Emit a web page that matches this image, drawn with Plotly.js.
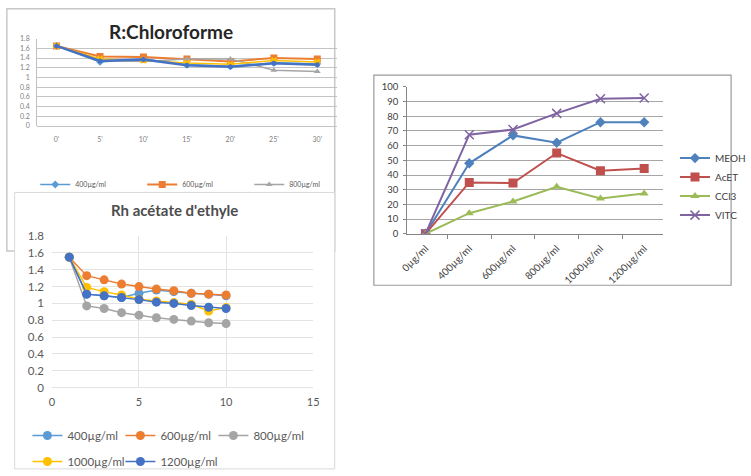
<!DOCTYPE html>
<html>
<head>
<meta charset="utf-8">
<script src="https://cdn.plot.ly/plotly-3.0.1.min.js"></script>
<style>
  html, body { margin: 0; padding: 0; background: #ffffff; width: 751px; height: 476px; overflow: hidden; }
  #chart { width: 751px; height: 476px; overflow: hidden; }
</style>
</head>
<body>
<div id="chart"></div>
<script>
// ---- R:Chloroforme : absorbance vs time ----
const timeLabels = ["0'", "5'", "10'", "15'", "20'", "25'", "30'"];
const chloro400  = [1.65, 1.32, 1.38, 1.26, 1.23, 1.30, 1.28];
const chloro600  = [1.65, 1.43, 1.42, 1.38, 1.33, 1.40, 1.38];
const chloro800  = [1.65, 1.35, 1.33, 1.38, 1.38, 1.15, 1.12];
const chloro1000 = [1.65, 1.38, 1.35, 1.30, 1.27, 1.35, 1.32];
const chloro1200 = [1.65, 1.34, 1.37, 1.25, 1.22, 1.29, 1.26];

// ---- Rh acétate d'ethyle : absorbance vs reading ----
const readings  = [1, 2, 3, 4, 5, 6, 7, 8, 9, 10];
const acet400   = [1.55, 1.11, 1.09, 1.07, 1.12, 1.16, 1.14, 1.12, 1.11, 1.09];
const acet600   = [1.55, 1.33, 1.28, 1.23, 1.20, 1.17, 1.15, 1.12, 1.11, 1.10];
const acet800   = [1.55, 0.97, 0.94, 0.89, 0.86, 0.83, 0.81, 0.79, 0.77, 0.76];
const acet1000  = [1.55, 1.19, 1.14, 1.10, 1.05, 1.03, 1.01, 0.99, 0.91, 0.95];
const acet1200  = [1.55, 1.11, 1.09, 1.07, 1.045, 1.015, 1.00, 0.975, 0.955, 0.94];

// ---- Inhibition (%) by extract and concentration ----
const concLabels = ["0µg/ml", "400µg/ml", "600µg/ml", "800µg/ml", "1000µg/ml", "1200µg/ml"];
const meoh = [0, 48, 67, 62, 76, 76];
const acet = [0, 35, 34.5, 55, 43, 44.5];
const ccl3 = [0, 14, 22, 32, 24, 27.5];
const vitc = [0, 67.5, 71, 82, 92, 92.5];

// page geometry helpers (pixel -> paper fraction)
const W = 751, H = 476;
const px = v => v / W;
const py = v => 1 - v / H;

const FONT = "Lato, 'Noto Sans', sans-serif";
const C = { blue: '#5B9BD5', orange: '#ED7D31', grey: '#A5A5A5', yellow: '#FFC000', dblue: '#4472C4' };

function chloroTrace(name, y, color, symbol, size, width, showlegend) {
  return { x: timeLabels, y: y, name: name, type: 'scatter', mode: 'lines+markers',
    xaxis: 'x', yaxis: 'y', legend: 'legend', showlegend: showlegend,
    line: { color: color, width: width }, marker: { color: color, symbol: symbol, size: size } };
}
function acetTrace(name, y, color, legend, lw) {
  const t = { x: readings, y: y, name: name, type: 'scatter', mode: 'lines+markers',
    xaxis: 'x2', yaxis: 'y2', legend: legend,
    line: { color: color, width: 1.5 }, marker: { color: color, symbol: 'circle', size: 9 } };
  if (lw) t.legendwidth = lw;
  return t;
}
function concTrace(name, y, color, symbol, size, mlw) {
  return { x: concLabels, y: y, name: name, type: 'scatter', mode: 'lines+markers',
    xaxis: 'x3', yaxis: 'y3', legend: 'legend4',
    line: { color: color, width: 2 }, marker: { color: color, symbol: symbol, size: size, line: { color: color, width: mlw } } };
}

const data = [
  chloroTrace('400µg/ml', chloro400, C.blue, 'diamond', 6, 1.5, true),
  chloroTrace('600µg/ml', chloro600, C.orange, 'square', 7, 2, true),
  chloroTrace('800µg/ml', chloro800, C.grey, 'triangle-up', 6, 1.5, true),
  chloroTrace('1000µg/ml', chloro1000, C.yellow, 'x', 6, 1.5, false),
  chloroTrace('1200µg/ml', chloro1200, C.dblue, 'circle', 5, 2.5, false),

  acetTrace('400µg/ml', acet400, C.blue, 'legend2'),
  acetTrace('600µg/ml', acet600, C.orange, 'legend2'),
  acetTrace('800µg/ml', acet800, C.grey, 'legend2', 80),
  acetTrace('1000µg/ml', acet1000, C.yellow, 'legend3'),
  acetTrace('1200µg/ml', acet1200, C.dblue, 'legend3', 80),

  concTrace('MEOH', meoh, '#4F81BD', 'diamond', 8, 0),
  concTrace('AcET', acet, '#C0504D', 'square', 9, 0),
  concTrace('CCl3', ccl3, '#9BBB59', 'triangle-up', 8, 0),
  concTrace('VITC', vitc, '#8064A2', 'x-thin-open', 9, 1.5)
];

const layout = {
  width: W, height: H, autosize: false,
  margin: { l: 0, r: 0, t: 0, b: 0, pad: 0 },
  paper_bgcolor: '#ffffff', plot_bgcolor: 'rgba(0,0,0,0)',
  font: { family: FONT, color: '#595959' },
  showlegend: true,

  // panel 1
  xaxis: { domain: [px(38), px(344)], anchor: 'y', type: 'category',
    showgrid: false, zeroline: false, showline: false, ticks: '',
    tickfont: { size: 7, color: '#7f7f7f' }, ticklabelstandoff: 8 },
  yaxis: { domain: [py(129), py(39.5)], anchor: 'x', range: [0, 1.8], tick0: 0, dtick: 0.2,
    showgrid: true, gridcolor: '#c4c4c4', gridwidth: 1, zeroline: true, zerolinecolor: '#c4c4c4',
    showline: true, linecolor: '#bfbfbf', ticks: '',
    tickfont: { size: 7, color: '#7f7f7f' }, ticklabelstandoff: 5 },

  // panel 2
  xaxis2: { domain: [px(53), px(320)], anchor: 'y2', range: [0, 15], tick0: 0, dtick: 5,
    showgrid: true, gridcolor: '#e3e3e3', zeroline: false, showline: false, ticks: '',
    tickfont: { size: 11, color: '#595959' }, ticklabelstandoff: 6 },
  yaxis2: { domain: [py(396.7), py(241.7)], anchor: 'x2', range: [0, 1.8], tick0: 0, dtick: 0.2,
    showgrid: true, gridcolor: '#e3e3e3', zeroline: true, zerolinecolor: '#e3e3e3',
    showline: false, ticks: '',
    tickfont: { size: 11.5, color: '#595959' }, ticklabelstandoff: 7 },

  // panel 3
  xaxis3: { domain: [px(416), px(677)], anchor: 'y3', type: 'category',
    showgrid: false, zeroline: false, showline: true, linecolor: '#868686',
    ticks: 'outside', tickson: 'boundaries', ticklen: 4, tickcolor: '#868686',
    tickangle: -45, tickfont: { size: 10, color: '#404040' }, ticklabelstandoff: 4 },
  yaxis3: { domain: [py(239.3), py(89)], anchor: 'x3', range: [0, 100], tick0: 0, dtick: 10,
    showgrid: true, gridcolor: '#a6a6a6', zeroline: false,
    showline: true, linecolor: '#868686', ticks: 'outside', ticklen: 3, tickcolor: '#868686',
    tickfont: { size: 9.5, color: '#404040' }, ticklabelstandoff: 3 },

  legend: { orientation: 'h', x: px(36), y: py(174), xanchor: 'left', yanchor: 'top',
    entrywidth: 62, bgcolor: 'rgba(0,0,0,0)', font: { size: 7, color: '#595959' } },
  legend2: { orientation: 'h', x: px(28), y: py(431), xanchor: 'left', yanchor: 'top',
    entrywidth: 48, bgcolor: 'rgba(0,0,0,0)', font: { size: 11.5, color: '#595959' } },
  legend3: { orientation: 'h', x: px(28), y: py(458), xanchor: 'left', yanchor: 'top',
    entrywidth: 48, bgcolor: 'rgba(0,0,0,0)', font: { size: 11.5, color: '#595959' } },
  legend4: { orientation: 'v', x: px(690), y: py(147), xanchor: 'left', yanchor: 'top',
    tracegroupgap: 0, bgcolor: 'rgba(0,0,0,0)', font: { size: 10, color: '#404040' } },

  shapes: [
    // panel 1 frame
    { type: 'rect', xref: 'paper', yref: 'paper', layer: 'below',
      x0: px(7), x1: px(342), y0: py(257), y1: py(9),
      line: { color: '#c8c8c8', width: 1.5 }, fillcolor: '#ffffff' },
    // panel 2 frame, laid over the lower part of panel 1
    { type: 'rect', xref: 'paper', yref: 'paper', layer: 'below',
      x0: px(15), x1: px(342), y0: py(480), y1: py(197),
      line: { color: '#d9d9d9', width: 1 }, fillcolor: '#ffffff' },
    // panel 3 frame
    { type: 'rect', xref: 'paper', yref: 'paper', layer: 'below',
      x0: px(382), x1: px(747), y0: py(292), y1: py(77),
      line: { color: '#9a9a9a', width: 1.2 }, fillcolor: '#ffffff' }
  ],

  annotations: [
    { text: 'R:Chloroforme', xref: 'paper', yref: 'paper', x: px(175), y: py(32),
      xanchor: 'center', yanchor: 'middle', showarrow: false,
      font: { family: FONT, size: 19, weight: 'bold', color: '#262626' } },
    { text: "Rh acétate d'ethyle", xref: 'paper', yref: 'paper', x: px(178), y: py(215),
      xanchor: 'center', yanchor: 'middle', showarrow: false,
      font: { family: FONT, size: 15, weight: 'bold', color: '#4d4d4d' } }
  ]
};

Plotly.newPlot('chart', data, layout, { staticPlot: true, displayModeBar: false });
</script>
</body>
</html>
